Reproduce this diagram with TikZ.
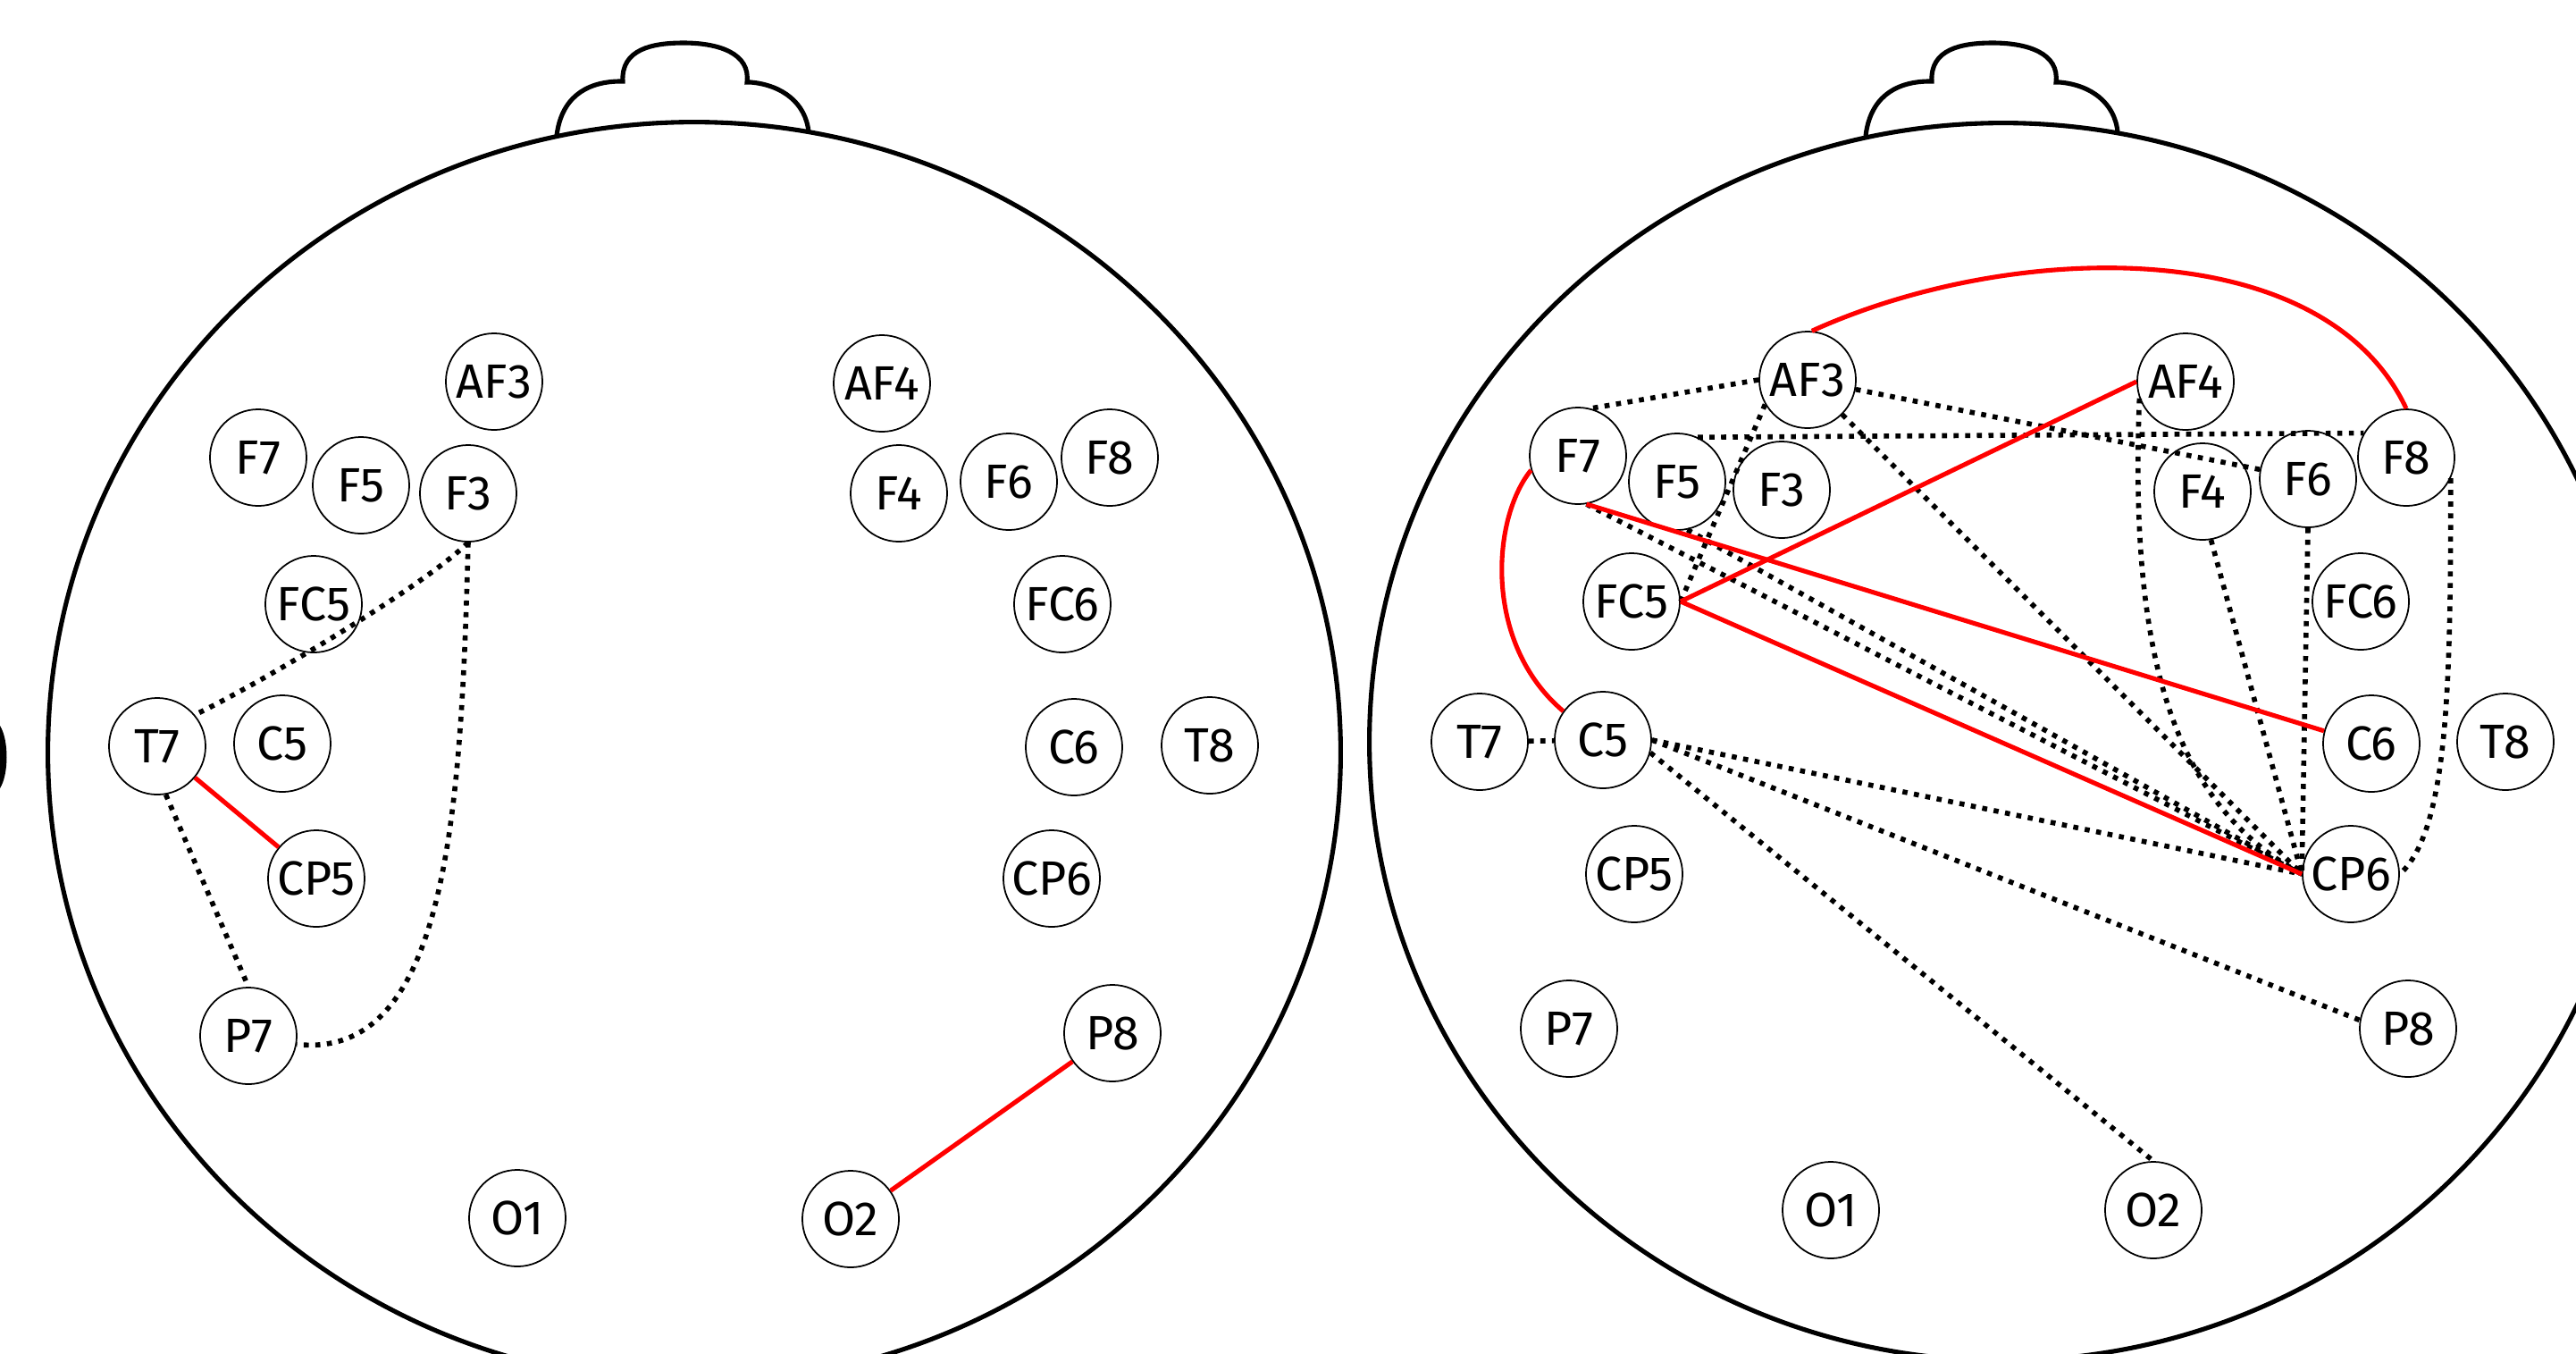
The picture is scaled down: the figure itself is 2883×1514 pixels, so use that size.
\documentclass[tikz,border=0pt]{standalone}
\usepackage{fontspec}
\setmainfont{Fira Sans}
\definecolor{linkred}{RGB}{255,0,0}

\begin{document}
\begin{tikzpicture}[x=0.01cm, y=-0.01cm,
    electrode/.style={draw, circle, line width=0.5pt, minimum size=1.08cm, inner sep=0pt, font=\fontsize{15.3}{18}\selectfont},
    headline/.style={line width=1.45pt},
    weak/.style={line width=1.6pt, dash pattern=on 1.6pt off 2.1pt},
    strong/.style={line width=1.45pt, linkred}]
    \useasboundingbox (0,0) rectangle (2883,1514);
    \clip (0,0) rectangle (2883,1514);

    % Heads and noses
    \foreach \cx/\cy/\rx/\ry/\dx in {777/842/7.23/7.05/0, 2242/830/7.09/6.92/1465} {
        \draw[headline] (\cx,\cy) ellipse [x radius=\rx cm, y radius=\ry cm];
        \draw[headline, shift={(\dx,0)}] (623,152) .. controls (628,110) and (655,92) .. (692,91) -- (697,91)
            .. controls (695,55) and (730,48) .. (765,48) .. controls (805,48) and (840,60) .. (836,92) -- (840,92)
            .. controls (875,95) and (902,115) .. (905,148);
    }
    % cut-off glyph at the left border
    \fill (0,812) .. controls (10,828) and (10,866) .. (0,882) -- cycle;

    % Left head electrodes
    \foreach \n/\x/\y in {AF3/553/427, F7/289/512, F5/404/543, F3/524/552, FC5/351/676,
        T7/176/835, C5/316/832, CP5/354/983, P7/278/1159, O1/579/1363,
        AF4/987/429, F4/1006/552, F6/1129/539, F8/1242/512, FC6/1189/676,
        C6/1202/836, T8/1354/834, CP6/1177/983, P8/1245/1156, O2/952/1364} {
        \node[electrode] (l\n) at (\x,\y) {\n};
    }

    % Right head electrodes
    \foreach \n/\x/\y in {AF3/2023/425, F7/1766/510, F5/1877/539, F3/1994/548, FC5/1826/673,
        T7/1656/830, C5/1794/828, CP5/1829/978, P7/1756/1151, O1/2049/1354,
        AF4/2446/427, F4/2465/550, F6/2583/536, F8/2693/512, FC6/2642/673,
        C6/2654/832, T8/2804/830, CP6/2631/978, P8/2695/1151, O2/2410/1354} {
        \node[electrode] (r\n) at (\x,\y) {\n};
    }

    % Left head connections
    \draw[weak] (lF3.south) .. controls +(-50,50) and +(60,-28) .. (lT7.40);
    \draw[weak] (lF3.south) .. controls +(-8,300) and +(169,18) .. (lP7.-10);
    \draw[weak] (lT7.-80) -- (lP7.north);
    \draw[strong] (lT7) -- (lCP5);
    \draw[strong] (lP8) -- (lO2);

    % Right head connections
    \draw[weak] (rAF3.west) -- (rF7.75);
    \draw[weak] (rAF3) -- (rF6);
    \draw[weak] (rF5.65) -- (rF8.150);
    \draw[weak] (rAF3.-150) -- (rFC5.east);
    \draw[weak] (rAF3) -- (rCP6.west);
    \foreach \src/\anc in {F7/-80, F5/-78, F4/-80, F6/south} {
        \draw[weak] (r\src.\anc) -- (rCP6.west);
    }
    \draw[weak] (rAF4.200) .. controls +(-12,302) and +(-138,-75) .. (rCP6.west);
    \draw[weak] (rF8.-25) .. controls +(0,225) and +(55,-50) .. (rCP6.east);
    \draw[weak] (rT7) -- (rC5);
    \draw[weak] (rC5.east) -- (rCP6.west);
    \draw[weak] (rC5.east) -- (rP8.170);
    \draw[weak] (rC5.-15) -- (rO2.north);

    \draw[strong] (rAF3.85) .. controls +(222,-101) and +(-93,-198) .. (rF8.north);
    \draw[strong] (rAF4.west) -- (rFC5.east);
    \draw[strong] (rFC5.east) -- (rCP6.west);
    \draw[strong] (rF7.-80) -- (rC6.165);
    \draw[strong] (rF7.197) .. controls +(-44,54) and +(-90,-76) .. (rC5.144);
\end{tikzpicture}
\end{document}
